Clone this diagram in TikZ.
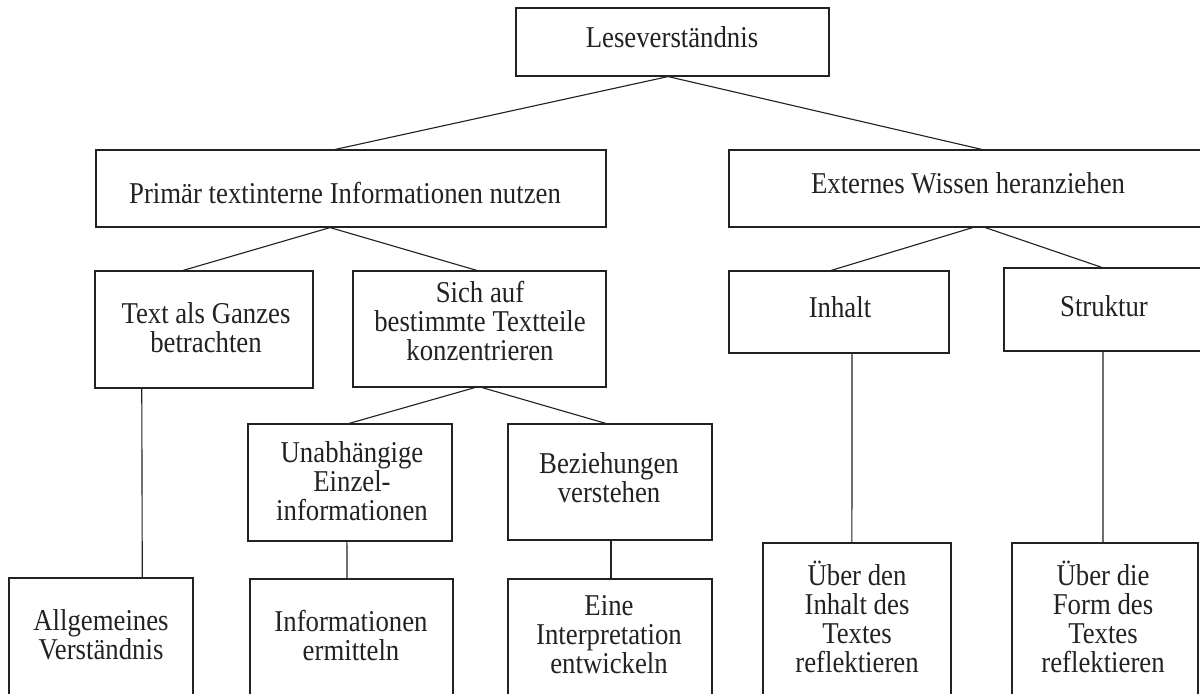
\documentclass[tikz,border=0pt]{standalone}
\usepackage{fontspec}
\setmainfont{Liberation Serif}[FakeStretch=0.885]
\usetikzlibrary{fit,calc}
\definecolor{ink}{HTML}{222222}
\begin{document}
\begin{tikzpicture}[x=0.025cm,y=-0.025cm,
  box/.style={draw=ink, line width=0.8pt, inner sep=0pt, rectangle},
  lbl/.style={anchor=base, align=center, text=ink, inner sep=0pt,
    font=\fontsize{21.5pt}{20.6pt}\selectfont},
  link/.style={draw=ink, line width=0.8pt}]
\useasboundingbox (0,0) rectangle (1200,693);
\clip (0,0) rectangle (1200,693);
% boxes
\node[box, fit={(516,8) (829,76)}] (lese) {};
\node[box, fit={(96,150) (606,227)}] (primar) {};
\node[box, fit={(729,150) (1207,227)}] (extern) {};
\node[box, fit={(95,271) (313,388)}] (ganz) {};
\node[box, fit={(353,271) (606,387)}] (sich) {};
\node[box, fit={(729,271) (949,353)}] (inhalt) {};
\node[box, fit={(1004,268) (1204,351)}] (struktur) {};
\node[box, fit={(248,424) (452,541)}] (unabh) {};
\node[box, fit={(508,424) (712,540)}] (bez) {};
\node[box, fit={(9,578) (193,710)}] (allg) {};
\node[box, fit={(250,579) (453,710)}] (info) {};
\node[box, fit={(508,579) (712,710)}] (eine) {};
\node[box, fit={(763,543) (951,710)}] (ueinh) {};
\node[box, fit={(1012,543) (1198,710)}] (uform) {};
% labels (anchor = baseline of the last line)
\node[lbl] (t-lese) at (672,47) {Leseverständnis};
\node[lbl] (t-primar) at (345,203) {Primär textinterne Informationen nutzen};
\node[lbl] (t-extern) at (968,193) {Externes Wissen heranziehen};
\node[lbl] (t-ganz) at (206,352) {Text als Ganzes\\betrachten};
\node[lbl] (t-sich) at (480,360) {Sich auf\\bestimmte Textteile\\konzentrieren};
\node[lbl] (t-inhalt) at (840,317) {Inhalt};
\node[lbl] (t-struktur) at (1104,316) {Struktur};
\node[lbl] (t-unabh) at (352,520) {Unabhängige\\Einzel-\\informationen};
\node[lbl] (t-bez) at (609,502) {Beziehungen\\verstehen};
\node[lbl] (t-allg) at (101,659) {Allgemeines\\Verständnis};
\node[lbl] (t-info) at (351,660) {Informationen\\ermitteln};
\node[lbl] (t-eine) at (609,673) {Eine\\Interpretation\\entwickeln};
\node[lbl] (t-ueinh) at (857,672) {Über den\\Inhalt des\\Textes\\reflektieren};
\node[lbl] (t-uform) at (1103,672) {Über die\\Form des\\Textes\\reflektieren};
% connectors
\draw[link] ($(lese.south west)!0.486!(lese.south east)$) -- ($(primar.north west)!0.469!(primar.north east)$);
\draw[link] ($(lese.south west)!0.486!(lese.south east)$) -- ($(extern.north west)!0.529!(extern.north east)$);
\draw[link] ($(primar.south west)!0.459!(primar.south east)$) -- ($(ganz.north west)!0.404!(ganz.north east)$);
\draw[link] ($(primar.south west)!0.459!(primar.south east)$) -- ($(sich.north west)!0.490!(sich.north east)$);
\draw[link] ($(extern.south west)!0.510!(extern.south east)$) -- ($(inhalt.north west)!0.464!(inhalt.north east)$);
\draw[link] ($(extern.south west)!0.536!(extern.south east)$) -- ($(struktur.north west)!0.490!(struktur.north east)$);
\draw[link] ($(ganz.south west)!0.216!(ganz.south east)$) -- ($(allg.north west)!0.723!(allg.north east)$);
\draw[link] ($(sich.south west)!0.482!(sich.south east)$) -- ($(unabh.north west)!0.495!(unabh.north east)$);
\draw[link] ($(sich.south west)!0.510!(sich.south east)$) -- ($(bez.north west)!0.480!(bez.north east)$);
\draw[link] ($(unabh.south west)!0.485!(unabh.south east)$) -- ($(info.north west)!0.478!(info.north east)$);
\draw[link] ($(bez.south west)!0.505!(bez.south east)$) -- ($(eine.north west)!0.505!(eine.north east)$);
\draw[link] ($(inhalt.south west)!0.559!(inhalt.south east)$) -- ($(ueinh.north west)!0.473!(ueinh.north east)$);
\draw[link] ($(struktur.south west)!0.495!(struktur.south east)$) -- ($(uform.north west)!0.489!(uform.north east)$);
\end{tikzpicture}
\end{document}
